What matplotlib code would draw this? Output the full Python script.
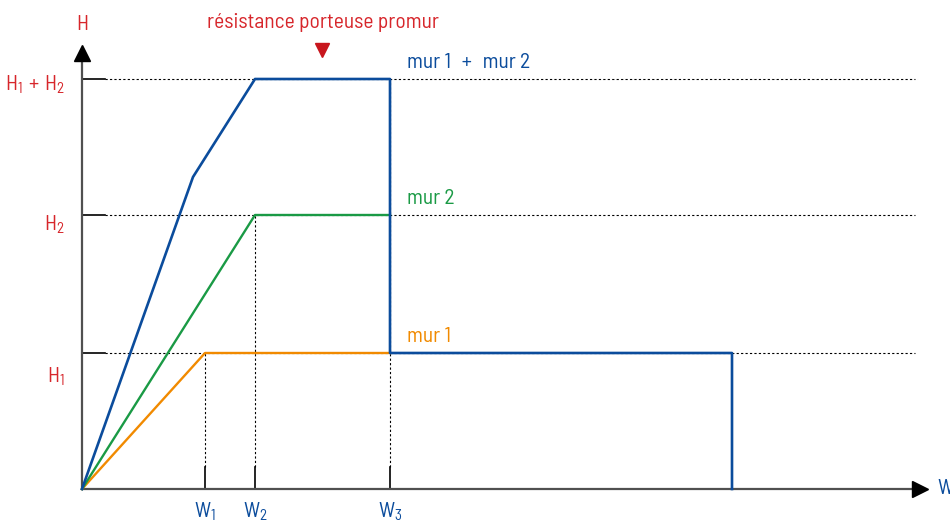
#!/usr/bin/env python3

import matplotlib
matplotlib.use("Agg")
import matplotlib.pyplot as plt

# schematic values (same units on both axes, origin at the axis crossing)
W1, W2, W3, W_END = 123, 173, 308, 650
H1, H2 = 136, 274
H12 = H1 + H2

mur1_x = [0, W1, W3]
mur1_y = [0, H1, H1]
mur2_x = [0, W2, W3]
mur2_y = [0, H2, H2]
sum_x = [0, 111, W2, W3, W3, W_END, W_END]
sum_y = [0, 312, H12, H12, H1, H1, 0]

h_ticks = [H1, H2, H12]
h_labels = [r"$\mathrm{H_1}$", r"$\mathrm{H_2}$", r"$\mathrm{H_1\,+\,H_2}$"]
w_ticks = [W1, W2, W3]
w_tops = [H1, H2, H12]
w_labels = [r"$\mathrm{W_1}$", r"$\mathrm{W_2}$", r"$\mathrm{W_3}$"]
curve_labels = ["mur 1", "mur 2", "mur 1\u2002+\u2002mur 2"]

RED = "#d7262b"
BLUE = "#0b4c9c"
GREEN = "#1a9a45"
ORANGE = "#f18a00"
AXIS = "#505050"

MAIN = "Barlow Semi Condensed"
plt.rcParams["font.family"] = [MAIN, "DejaVu Sans"]
plt.rcParams["mathtext.fontset"] = "custom"
plt.rcParams["mathtext.rm"] = MAIN
plt.rcParams["mathtext.it"] = MAIN
plt.rcParams["mathtext.sf"] = MAIN

fig = plt.figure(figsize=(9.5, 5.21), dpi=100)
ax = fig.add_axes([0, 0, 1, 1])
ax.set_xlim(-82, 868)
ax.set_ylim(-32, 489)
ax.axis("off")

x_end = 833
y_end = 432
FS = 15.5

# dotted guides + short solid ticks
for h in h_ticks:
    ax.plot([0, 23], [h, h], color="black", lw=1.2, zorder=2)
    ax.plot([23, x_end], [h, h], color="black", lw=0.8, ls=(0, (2, 2)), zorder=1)
for w, top in zip(w_ticks, w_tops):
    ax.plot([w, w], [0, 22], color="black", lw=1.2, zorder=2)
    ax.plot([w, w], [22, top], color="black", lw=0.8, ls=(0, (2, 2)), zorder=1)

# axes with arrow heads
ax.plot([0, x_end], [0, 0], color=AXIS, lw=1.6, zorder=3)
ax.plot([0, 0], [0, y_end], color=AXIS, lw=1.6, zorder=3)
ax.plot([x_end + 5], [0], marker=">", ms=12, color="black", zorder=4)
ax.plot([0], [y_end + 4], marker="^", ms=12, color="black", zorder=4)

# curves
ax.plot(mur1_x, mur1_y, color=ORANGE, lw=1.7, zorder=5)
ax.plot(mur2_x, mur2_y, color=GREEN, lw=1.7, zorder=5)
ax.plot(sum_x, sum_y, color=BLUE, lw=1.9, zorder=6)

# labels
ax.text(0, 464, "H", color=RED, fontsize=FS, ha="center", va="center")
ax.text(-17, H12 - 6, h_labels[2], color=RED, fontsize=FS, ha="right", va="center")
ax.text(-17, H2 - 10, h_labels[1], color=RED, fontsize=FS, ha="right", va="center")
ax.text(-17, H1 - 24, h_labels[0], color=RED, fontsize=FS, ha="right", va="center")
for w, lab in zip(w_ticks, w_labels):
    ax.text(w, -23, lab, color=BLUE, fontsize=FS, ha="center", va="center")
ax.text(x_end + 22, 0, "W", color=BLUE, fontsize=FS, ha="left", va="center")

for lab, y, col in zip(curve_labels, [H1, H2, H12], [ORANGE, GREEN, BLUE]):
    ax.text(325, y + 16, lab, color=col, fontsize=FS, ha="left", va="center")

ax.text(241, 466, "résistance porteuse promur", color=RED, fontsize=FS,
        ha="center", va="center")
ax.plot([240], [439], marker="v", ms=10, color="#c8161d", zorder=4)

fig.savefig("out.png", dpi=100)
